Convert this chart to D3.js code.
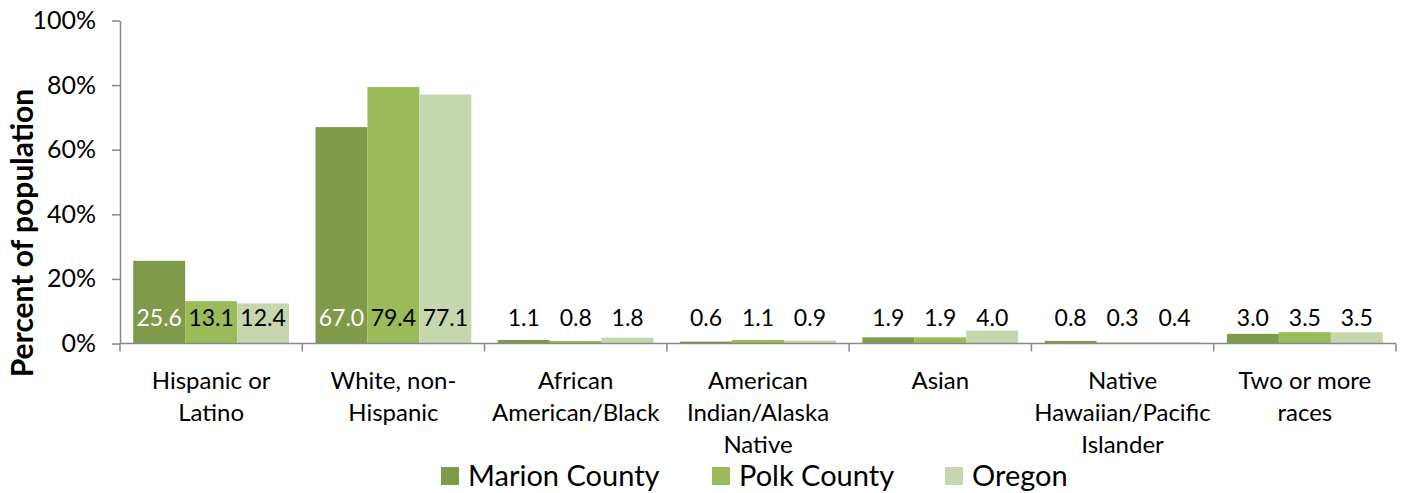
<!DOCTYPE html>
<html><head><meta charset="utf-8">
<script src="https://cdn.jsdelivr.net/npm/d3@7"></script>
<style>body{margin:0;background:#fff;} svg{display:block;font-family:Lato, "Open Sans", sans-serif;}</style>
</head><body>
<svg id="chart" width="1403" height="493"></svg>
<script>
const categories = ["Hispanic or\nLatino","White, non-\nHispanic","African\nAmerican/Black","American\nIndian/Alaska\nNative","Asian","Native\nHawaiian/Pacific\nIslander","Two or more\nraces"];
const seriesNames = ["Marion County","Polk County","Oregon"];
const marion = [25.6, 67.0, 1.1, 0.6, 1.9, 0.8, 3.0];
const polk   = [13.1, 79.4, 0.8, 1.1, 1.9, 0.3, 3.5];
const oregon = [12.4, 77.1, 1.8, 0.9, 4.0, 0.4, 3.5];
const yTicks = [0, 20, 40, 60, 80, 100];
const colors = ["#7f9b4a", "#9bbb59", "#c6d7ae"];
const seriesValues = [marion, polk, oregon];

const svg = d3.select("#chart");
const x0 = d3.scaleBand().domain(categories).range([120, 1396]).paddingInner(0).paddingOuter(0);
const x1 = d3.scaleBand().domain(seriesNames).range([0, x0.bandwidth()]).paddingInner(0).paddingOuter(0.255);
const y = d3.scaleLinear().domain([0, 100]).range([343.5, 20.5]);

// bars
const groups = svg.append("g").selectAll("g").data(categories).join("g")
  .attr("transform", d => `translate(${x0(d)},0)`);
groups.each(function(cat, ci) {
  const g = d3.select(this);
  seriesNames.forEach((s, si) => {
    const v = seriesValues[si][ci];
    g.append("rect").attr("x", x1(s)).attr("width", x1.bandwidth())
      .attr("y", y(v)).attr("height", y(0) - y(v)).attr("fill", colors[si]);
  });
  seriesNames.forEach((s, si) => {
    const v = seriesValues[si][ci];
    const inside = (y(0) - y(v)) > 30;
    g.append("text").attr("x", x1(s) + x1.bandwidth() / 2).attr("y", y(0) - 18)
      .attr("text-anchor", "middle").attr("font-size", 23)
      .attr("fill", inside && si === 0 ? "#ffffff" : "#000000")
      .text(v.toFixed(1));
  });
});

// y axis
const yAxis = d3.axisLeft(y).tickValues(yTicks).tickFormat(d => d + "%").tickSize(8).tickSizeOuter(0);
const ya = svg.append("g").attr("transform", "translate(120,0)").call(yAxis);
ya.select(".domain").attr("stroke", "#898989").attr("stroke-width", 1.5);
ya.selectAll(".tick line").attr("stroke", "#898989").attr("stroke-width", 1.5);
ya.selectAll(".tick text").attr("font-size", 25).attr("fill", "#000").attr("x", -24).attr("font-family", "Lato");

// x axis
const xa = svg.append("g").attr("transform", `translate(0,${y(0)})`);
xa.append("line").attr("x1", 120).attr("x2", 1396).attr("stroke", "#898989").attr("stroke-width", 1.5);
const bounds = categories.map(c => x0(c)).concat([x0(categories[categories.length - 1]) + x0.bandwidth()]);
xa.selectAll("line.tk").data(bounds).join("line").attr("class", "tk")
  .attr("x1", d => d).attr("x2", d => d).attr("y1", 0).attr("y2", 8)
  .attr("stroke", "#898989").attr("stroke-width", 1.5);
categories.forEach(c => {
  const lines = c.split("\n");
  const t = svg.append("text").attr("text-anchor", "middle").attr("font-size", 24).attr("fill", "#000");
  lines.forEach((ln, i) => {
    t.append("tspan").attr("x", x0(c) + x0.bandwidth() / 2).attr("y", 389 + i * 32).text(ln);
  });
});

// y title
svg.append("text").attr("transform", "translate(33,233) rotate(-90)")
  .attr("text-anchor", "middle").attr("font-size", 30).attr("font-weight", "bold").attr("fill", "#000")
  .text("Percent of population");

// legend
const legendX = [441, 712, 945];
seriesNames.forEach((s, i) => {
  svg.append("rect").attr("x", legendX[i]).attr("y", 467).attr("width", 18).attr("height", 18).attr("fill", colors[i]);
  svg.append("text").attr("x", legendX[i] + 27).attr("y", 486).attr("font-size", 29).attr("fill", "#000").text(s);
});
</script>
</body></html>
